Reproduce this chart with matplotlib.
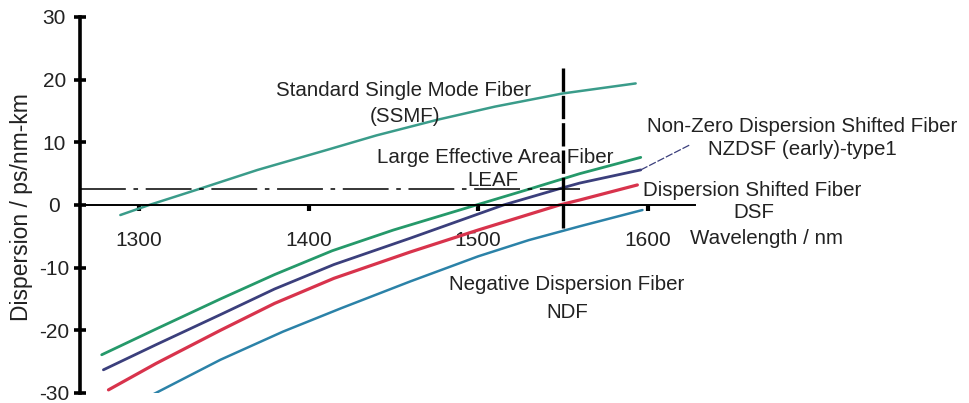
import matplotlib
matplotlib.use("Agg")
import matplotlib.pyplot as plt

plt.rcParams['font.family'] = ['Liberation Sans', 'DejaVu Sans']

# ---- data ----
ssmf_wl = [1289, 1306, 1336, 1370, 1411, 1440, 1476, 1510, 1550, 1593]
ssmf_d = [-1.6, 0.0, 2.6, 5.6, 8.8, 11.1, 13.6, 15.7, 17.8, 19.4]

leaf_wl = [1278, 1310, 1348, 1380, 1414, 1450, 1499, 1531, 1560, 1596]
leaf_d = [-23.9, -19.8, -15.0, -11.1, -7.3, -4.0, 0.0, 2.6, 5.0, 7.6]

nzdsf_wl = [1279, 1310, 1348, 1380, 1415, 1460, 1515, 1548, 1560, 1596]
nzdsf_d = [-26.3, -22.3, -17.5, -13.4, -9.5, -5.3, 0.0, 2.6, 3.5, 5.6]

dsf_wl = [1282, 1310, 1348, 1380, 1415, 1460, 1500, 1548, 1560, 1594]
dsf_d = [-29.5, -25.3, -20.0, -15.7, -11.7, -7.5, -4.0, 0.0, 0.8, 3.2]

ndf_wl = [1302, 1348, 1385, 1419, 1460, 1500, 1530, 1560, 1597]
ndf_d = [-31.1, -24.7, -20.2, -16.5, -12.2, -8.2, -5.6, -3.4, -0.8]

xticks = [1300, 1400, 1500, 1600]
yticks = [-30, -20, -10, 0, 10, 20, 30]

W, H = 969, 403
fig = plt.figure(figsize=(W / 100, H / 100), dpi=100)
ax = fig.add_axes([80 / W, (H - 393) / H, (695 - 80) / W, (393 - 17) / H])
ax.set_xlim(1265.2, 1628)
ax.set_ylim(-30, 30)

c_ssmf = '#3a9c8a'
c_leaf = '#25996a'
c_nz = '#3b3f7c'
c_dsf = '#d8334c'
c_ndf = '#2b82a8'

kw = dict(solid_capstyle='round', solid_joinstyle='round')
ax.plot(ssmf_wl, ssmf_d, color=c_ssmf, lw=1.8, **kw)
ax.plot(leaf_wl, leaf_d, color=c_leaf, lw=2.0, **kw)
ax.plot(nzdsf_wl, nzdsf_d, color=c_nz, lw=2.0, **kw)
ax.plot(dsf_wl, dsf_d, color=c_dsf, lw=2.3, **kw)
ax.plot(ndf_wl, ndf_d, color=c_ndf, lw=1.8, **kw)

# leader from NZDSF curve end to its label
ax.plot([nzdsf_wl[-1], 1625], [nzdsf_d[-1], 9.6], color=c_nz, lw=0.9,
        dashes=(6, 1.5))

# reference lines
ax.plot([1265.2, 1560], [2.5, 2.5], color='black', lw=1.1,
        dashes=(30, 5, 3, 5))
ax.plot([1550, 1550], [-3.7, 21.9], color='black', lw=2.4, dashes=(7, 1.2))

# spines / axes
for s in ['top', 'right']:
    ax.spines[s].set_visible(False)
ax.spines['left'].set_linewidth(2.6)
ax.spines['bottom'].set_position(('data', 0))
ax.spines['bottom'].set_linewidth(1.4)

ax.set_xticks(xticks)
ax.set_xticklabels([str(v) for v in xticks])
ax.set_yticks(yticks)
ax.set_yticklabels([str(v) for v in yticks])
ax.tick_params(axis='x', direction='out', length=4, width=3, pad=15,
               labelsize=15, colors='black', labelcolor='#222222')
ax.tick_params(axis='y', direction='inout', length=9, width=2.6, pad=14,
               labelsize=15, labelcolor='#222222')
for lab in ax.get_yticklabels():
    lab.set_horizontalalignment('center')

fig.text(22 / W, 1 - 207 / H, 'Dispersion / ps/nm-km', rotation=90,
         ha='center', va='center', fontsize=16.5, color='#222222')

fs = 14.8
tc = '#222222'
def px(x, y, s, ha='center', **kw):
    fig.text(x / W, 1 - y / H, s, ha=ha, va='center', fontsize=fs,
             color=tc, **kw)

px(404, 90, 'Standard Single Mode Fiber')
px(405, 117, '(SSMF)')
px(495, 158, 'Large Effective Area Fiber')
px(493, 180, 'LEAF')
px(802, 127, 'Non-Zero Dispersion Shifted Fiber')
px(802, 150, 'NZDSF (early)-type1')
px(643, 190, 'Dispersion Shifted Fiber', ha='left')
px(754, 212, 'DSF')
px(690, 238, 'Wavelength / nm', ha='left')
px(567, 285, 'Negative Dispersion Fiber')
px(567, 312, 'NDF')

fig.savefig('out.png', dpi=100, facecolor='white')
